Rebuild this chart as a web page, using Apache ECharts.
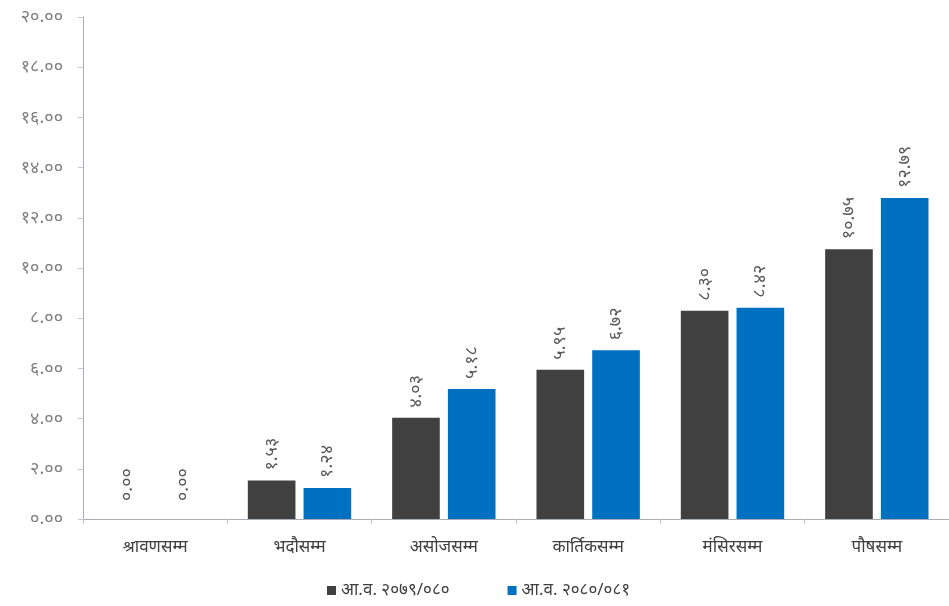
<!DOCTYPE html>
<html><head><meta charset="utf-8">
<script src="https://cdn.jsdelivr.net/npm/echarts@6/dist/echarts.min.js"></script>
<style>html,body{margin:0;padding:0;background:#fff}#c{width:949px;height:606px}</style>
</head><body><div id="c"></div>
<script>
const categories = ['श्रावणसम्म','भदौसम्म','असोजसम्म','कार्तिकसम्म','मंसिरसम्म','पौषसम्म'];
const seriesNames = ['आ.व. २०७९/०८०','आ.व. २०८०/०८१'];
const values2079 = [0.00, 1.53, 4.03, 5.95, 8.30, 10.75];
const values2080 = [0.00, 1.24, 5.18, 6.72, 8.42, 12.79];
const colors = ['#404040', '#0070c0'];

const dev = ['०','१','२','३','४','५','६','७','८','९'];
function toDev(s){ return String(s).replace(/[0-9]/g, d => dev[+d]); }

const chart = echarts.init(document.getElementById('c'));
const font = '"Noto Sans", "DejaVu Sans", sans-serif';
function mk(name, data, color){
  return {
    name, type:'bar',
    data: data.map(v => ({value:v, label:{distance: v === 0 ? 18 : 10}})),
    barWidth:'33%', barGap:'17%',
    itemStyle:{color},
    label:{show:true, position:'top', rotate:90, align:'left', verticalAlign:'middle',
      color:'#595959', fontSize:18, fontFamily:font,
      formatter:p=>toDev(p.value.toFixed(2))}
  };
}
chart.setOption({
  animation:false,
  textStyle:{fontFamily:font},
  grid:{left:83, width:870, top:17, bottom:87},
  legend:{bottom:2, left:322, itemWidth:9, itemHeight:9, itemGap:58,
    icon:'rect', textStyle:{color:'#404040', fontSize:17, fontFamily:font},
    data:seriesNames},
  xAxis:{type:'category', data:categories,
    axisLine:{lineStyle:{color:'#a6adb8'}},
    axisTick:{show:true, length:5, lineStyle:{color:'#c4c9d2'}},
    axisLabel:{color:'#404040', fontSize:17, margin:20, fontFamily:font}},
  yAxis:{type:'value', min:0, max:20, interval:2,
    axisLine:{show:true, lineStyle:{color:'#a6adb8'}},
    axisTick:{show:true, length:5, lineStyle:{color:'#c4c9d2'}},
    splitLine:{show:false},
    axisLabel:{color:'#7f7f7f', fontSize:18, margin:20, fontFamily:font,
      formatter:v=>toDev(v.toFixed(2))}},
  series:[mk(seriesNames[0], values2079, colors[0]), mk(seriesNames[1], values2080, colors[1])]
});
</script></body></html>
